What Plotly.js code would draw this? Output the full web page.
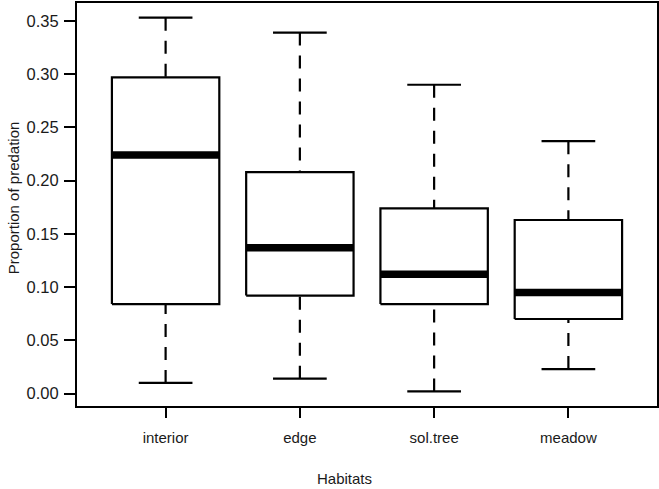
<!DOCTYPE html>
<html>
<head>
<meta charset="utf-8">
<script src="https://cdn.plot.ly/plotly-3.0.1.min.js"></script>
<style>html,body{margin:0;padding:0;background:#fff;}#chart{width:659px;height:489px;}</style>
</head>
<body>
<div id="chart"></div>
<script>
const categories = ["interior", "edge", "sol.tree", "meadow"];
const lowerWhisker = [0.010, 0.014, 0.002, 0.023];
const q1Values     = [0.084, 0.092, 0.084, 0.070];
const medianValues = [0.224, 0.137, 0.112, 0.095];
const q3Values     = [0.297, 0.208, 0.174, 0.163];
const upperWhisker = [0.353, 0.339, 0.290, 0.237];
const yTickVals = [0, 0.05, 0.10, 0.15, 0.20, 0.25, 0.30, 0.35];
const yTickText = ["0.00", "0.05", "0.10", "0.15", "0.20", "0.25", "0.30", "0.35"];

const boxHalf = 0.4, capHalf = 0.2;
const bx = [], by = [], mx = [], my = [], wx = [], wy = [], cx = [], cy = [];
categories.forEach((c, k) => {
  const i = k + 1;
  bx.push(i - boxHalf, i + boxHalf, i + boxHalf, i - boxHalf, i - boxHalf, null);
  by.push(q1Values[k], q1Values[k], q3Values[k], q3Values[k], q1Values[k], null);
  mx.push(i - boxHalf, i + boxHalf, null);
  my.push(medianValues[k], medianValues[k], null);
  wx.push(i, i, null, i, i, null);
  wy.push(upperWhisker[k], q3Values[k], null, lowerWhisker[k], q1Values[k], null);
  cx.push(i - capHalf, i + capHalf, null, i - capHalf, i + capHalf, null);
  cy.push(upperWhisker[k], upperWhisker[k], null, lowerWhisker[k], lowerWhisker[k], null);
});

const common = {type: "scatter", mode: "lines", hoverinfo: "skip", showlegend: false};
const data = [
  Object.assign({}, common, {x: wx, y: wy, line: {color: "#000", width: 2.2, dash: "13px,10px"}}),
  Object.assign({}, common, {x: cx, y: cy, line: {color: "#000", width: 2.2}}),
  Object.assign({}, common, {x: bx, y: by, line: {color: "#000", width: 2.2}}),
  Object.assign({}, common, {x: mx, y: my, line: {color: "#000", width: 7.5}})
];

const font = {family: "Liberation Sans, Arial, sans-serif", color: "#1a1a1a"};
const layout = {
  width: 659, height: 489,
  margin: {l: 77, r: 2, t: 3, b: 83},
  paper_bgcolor: "#fff", plot_bgcolor: "#fff",
  font: Object.assign({size: 15}, font),
  xaxis: {
    range: [0.34, 4.66], tickmode: "array", tickvals: [1, 2, 3, 4], ticktext: categories,
    showgrid: false, zeroline: false, showline: true, linecolor: "#000", linewidth: 2, mirror: true,
    ticks: "outside", ticklen: 10, tickwidth: 2, tickcolor: "#000", ticklabelstandoff: 7,
    tickfont: Object.assign({size: 15}, font)
  },
  yaxis: {
    range: [-0.0117, 0.3668], tickmode: "array", tickvals: yTickVals, ticktext: yTickText,
    showgrid: false, zeroline: false, showline: true, linecolor: "#000", linewidth: 2, mirror: true,
    ticks: "outside", ticklen: 11, tickwidth: 2, tickcolor: "#000", ticklabelstandoff: 2,
    tickfont: Object.assign({size: 16.5}, font)
  },
  annotations: [
    {text: "Habitats", xref: "paper", yref: "paper", x: 0.462, y: -0.1787, xanchor: "center", yanchor: "middle", showarrow: false, font: Object.assign({size: 15}, font)},
    {text: "Proportion of predation", xref: "paper", yref: "paper", x: -0.110, y: 0.516, xanchor: "center", yanchor: "middle", textangle: -90, showarrow: false, font: Object.assign({size: 15}, font)}
  ]
};

Plotly.newPlot("chart", data, layout, {displayModeBar: false, staticPlot: true});
</script>
</body>
</html>
